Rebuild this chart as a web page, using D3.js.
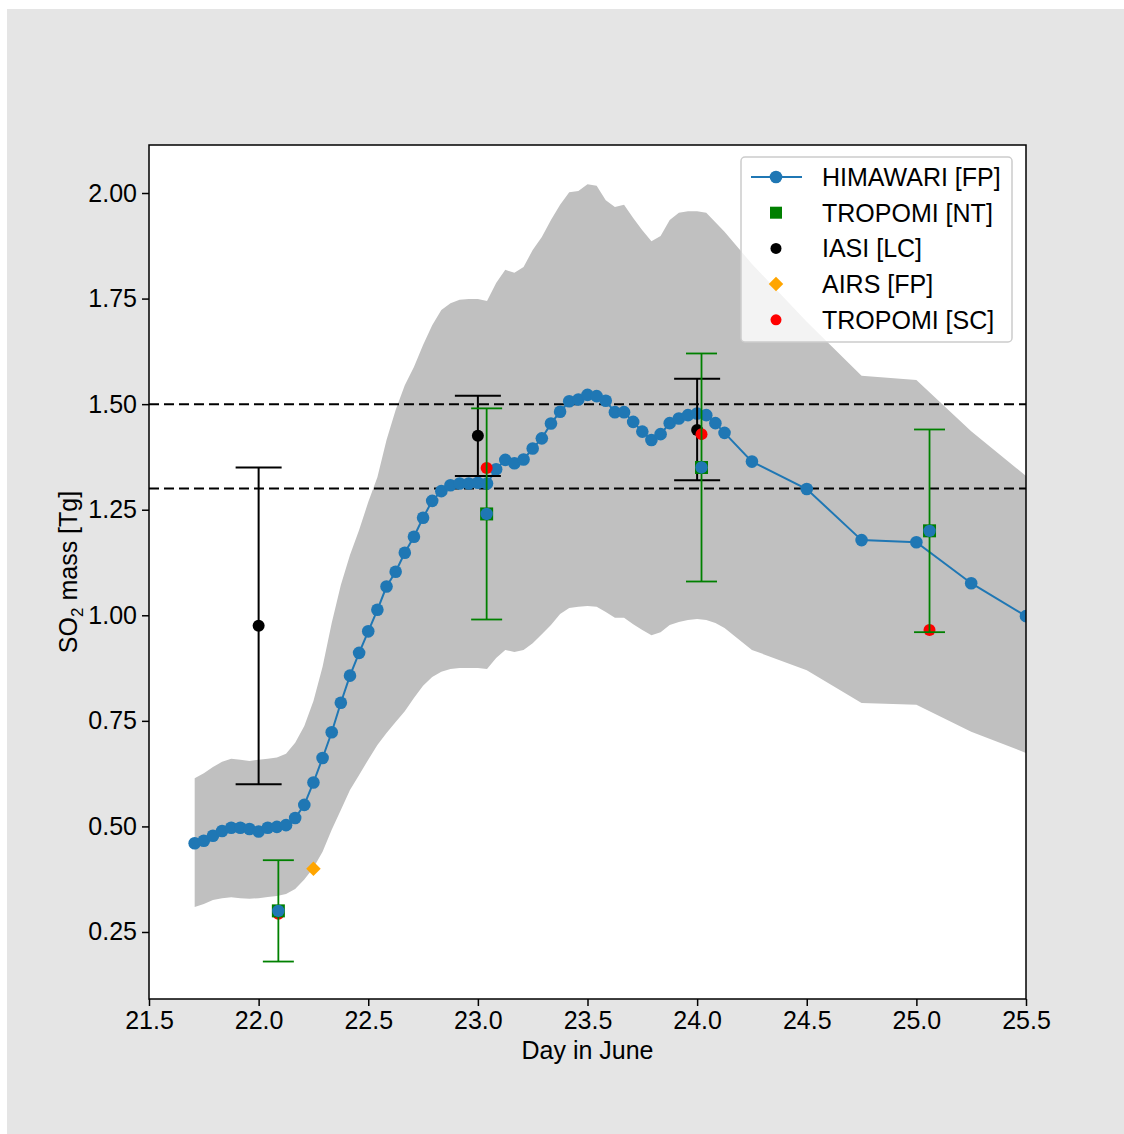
<!DOCTYPE html>
<html>
<head>
<meta charset="utf-8">
<script src="https://cdn.jsdelivr.net/npm/d3@7"></script>
<style>
  body { margin: 0; background: #fff; }
  svg text { font-family: "Liberation Sans", Arial, sans-serif; fill: #000; }
</style>
</head>
<body>
<div id="chart"></div>
<script>
// HIMAWARI [FP] time steps, hours after 21 June 00:00
const himaHours = [17, 18, 19, 20, 21, 22, 23, 24, 25, 26, 27, 28, 29, 30, 31, 32, 33, 34, 35, 36,
  37, 38, 39, 40, 41, 42, 43, 44, 45, 46, 47, 48, 49, 50, 51, 52, 53, 54, 55, 56,
  57, 58, 59, 60, 61, 62, 63, 64, 65, 66, 67, 68, 69, 70, 71, 72, 73, 74, 75,
  78, 84, 90, 96, 102, 108]

const himaMass = [0.460, 0.466, 0.478, 0.489, 0.497, 0.497, 0.494, 0.488, 0.497, 0.499,
  0.503, 0.520, 0.551, 0.604, 0.662, 0.723, 0.793, 0.857, 0.911, 0.962,
  1.013, 1.068, 1.103, 1.148, 1.186, 1.231, 1.271, 1.294, 1.308, 1.312,
  1.312, 1.314, 1.312, 1.346, 1.368, 1.360, 1.369, 1.395, 1.419, 1.454,
  1.482, 1.507, 1.511, 1.522, 1.519, 1.508, 1.481, 1.481, 1.458, 1.435,
  1.415, 1.429, 1.455, 1.466, 1.474, 1.478, 1.474, 1.455, 1.432,
  1.364, 1.299, 1.178, 1.173, 1.076, 0.998]

// uncertainty band
const bandUpper = [0.614, 0.626, 0.641, 0.653, 0.660, 0.658, 0.655, 0.658, 0.660, 0.663,
  0.672, 0.698, 0.738, 0.797, 0.878, 0.982, 1.072, 1.143, 1.202, 1.268,
  1.327, 1.415, 1.486, 1.545, 1.588, 1.640, 1.687, 1.723, 1.739, 1.747,
  1.749, 1.749, 1.744, 1.787, 1.818, 1.811, 1.825, 1.865, 1.896, 1.936,
  1.972, 2.002, 2.005, 2.021, 2.017, 1.983, 1.967, 1.972, 1.941, 1.912,
  1.886, 1.898, 1.936, 1.953, 1.957, 1.957, 1.953, 1.931, 1.908,
  1.832, 1.695, 1.567, 1.557, 1.436, 1.330]

const bandLower = [0.309, 0.316, 0.326, 0.330, 0.332, 0.330, 0.329, 0.330, 0.333, 0.335,
  0.340, 0.352, 0.374, 0.402, 0.440, 0.492, 0.539, 0.586, 0.622, 0.658,
  0.693, 0.721, 0.747, 0.773, 0.804, 0.833, 0.854, 0.866, 0.873, 0.875,
  0.875, 0.875, 0.873, 0.899, 0.918, 0.913, 0.918, 0.934, 0.955, 0.977,
  1.003, 1.017, 1.020, 1.022, 1.020, 1.008, 0.994, 0.994, 0.979, 0.965,
  0.953, 0.960, 0.977, 0.984, 0.989, 0.991, 0.989, 0.982, 0.970,
  0.918, 0.870, 0.792, 0.788, 0.724, 0.674]

// IASI [LC]
const iasiDay = [22.0, 23.0, 24.0]
const iasiMass = [0.975, 1.425, 1.439]
const iasiLow = [0.60, 1.33, 1.32]
const iasiHigh = [1.35, 1.52, 1.56]

// TROPOMI [NT]
const tropNtDay = [22.09, 23.04, 24.02, 25.06]
const tropNtMass = [0.30, 1.24, 1.35, 1.20]
const tropNtLow = [0.18, 0.99, 1.08, 0.96]
const tropNtHigh = [0.42, 1.49, 1.62, 1.44]

// TROPOMI [SC]
const tropScDay = [22.09, 23.04, 24.02, 25.06]
const tropScMass = [0.293, 1.349, 1.429, 0.965]

// AIRS [FP]
const airsDay = [22.25]
const airsMass = [0.40]

const refLines = [1.50, 1.30]
const xTicks = [21.5, 22.0, 22.5, 23.0, 23.5, 24.0, 24.5, 25.0, 25.5]
const yTicks = [0.25, 0.50, 0.75, 1.00, 1.25, 1.50, 1.75, 2.00]

const legendNames = ['HIMAWARI [FP]', 'TROPOMI [NT]', 'IASI [LC]', 'AIRS [FP]', 'TROPOMI [SC]']

const W = 1124, H = 1134
const pL = 149, pR = 1026, pT = 145, pB = 999
const blue = '#1f77b4'
const fs = 25

const x = d3.scaleLinear().domain([21.5, 25.5]).range([pL, pR])
const y = d3.scaleLinear().domain([0.0913, 2.1137]).range([pB, pT])

const svg = d3.select('#chart').append('svg')
  .attr('width', W)
  .attr('height', H)

svg.append('rect')
  .attr('x', 7).attr('y', 9)
  .attr('width', W - 7).attr('height', H - 9)
  .attr('fill', '#e5e5e5')

svg.append('rect')
  .attr('x', pL).attr('y', pT)
  .attr('width', pR - pL).attr('height', pB - pT)
  .attr('fill', '#fff')

svg.append('clipPath').attr('id', 'clip')
  .append('rect')
  .attr('x', pL).attr('y', pT)
  .attr('width', pR - pL).attr('height', pB - pT)

const plot = svg.append('g').attr('clip-path', 'url(#clip)')

const hima = himaHours.map((h, i) => ({
  day: 21 + h / 24,
  mass: himaMass[i],
  lo: bandLower[i],
  hi: bandUpper[i]
}))

// band
plot.append('path')
  .datum(hima)
  .attr('fill', '#c0c0c0')
  .attr('d', d3.area()
    .x(d => x(d.day))
    .y0(d => y(d.lo))
    .y1(d => y(d.hi)))

// reference lines
plot.selectAll('.ref')
  .data(refLines)
  .enter()
  .append('line')
  .attr('x1', pL).attr('x2', pR)
  .attr('y1', d => y(d)).attr('y2', d => y(d))
  .attr('stroke', '#000')
  .attr('stroke-width', 2)
  .attr('stroke-dasharray', '10,5')

// HIMAWARI line
plot.append('path')
  .datum(hima)
  .attr('fill', 'none')
  .attr('stroke', blue)
  .attr('stroke-width', 2)
  .attr('d', d3.line().x(d => x(d.day)).y(d => y(d.mass)))

plot.selectAll('.hima')
  .data(hima)
  .enter()
  .append('circle')
  .attr('cx', d => x(d.day))
  .attr('cy', d => y(d.mass))
  .attr('r', 6.3)
  .attr('fill', blue)

// error bar helper
function errorBars(days, low, high, color, capHalf, width) {
  const g = plot.append('g').attr('stroke', color).attr('stroke-width', width)
  days.forEach((d, i) => {
    const cx = x(d)
    g.append('line')
      .attr('x1', cx).attr('x2', cx)
      .attr('y1', y(low[i])).attr('y2', y(high[i]))
    g.append('line')
      .attr('x1', cx - capHalf).attr('x2', cx + capHalf)
      .attr('y1', y(low[i])).attr('y2', y(low[i]))
    g.append('line')
      .attr('x1', cx - capHalf).attr('x2', cx + capHalf)
      .attr('y1', y(high[i])).attr('y2', y(high[i]))
  })
}

// IASI
errorBars(iasiDay, iasiLow, iasiHigh, '#000', 23, 2)
plot.selectAll('.iasi')
  .data(iasiDay)
  .enter()
  .append('circle')
  .attr('cx', d => x(d))
  .attr('cy', (d, i) => y(iasiMass[i]))
  .attr('r', 6)
  .attr('fill', '#000')

// TROPOMI SC
plot.selectAll('.sc')
  .data(tropScDay)
  .enter()
  .append('circle')
  .attr('cx', d => x(d))
  .attr('cy', (d, i) => y(tropScMass[i]))
  .attr('r', 6)
  .attr('fill', '#ff0000')

// TROPOMI NT
errorBars(tropNtDay, tropNtLow, tropNtHigh, 'green', 15.5, 1.8)
plot.selectAll('.nt')
  .data(tropNtDay)
  .enter()
  .append('rect')
  .attr('x', d => x(d) - 6.5)
  .attr('y', (d, i) => y(tropNtMass[i]) - 6.5)
  .attr('width', 13).attr('height', 13)
  .attr('fill', 'green')
plot.selectAll('.ntc')
  .data(tropNtDay)
  .enter()
  .append('circle')
  .attr('cx', d => x(d))
  .attr('cy', (d, i) => y(tropNtMass[i]))
  .attr('r', 6.2)
  .attr('fill', blue)

// AIRS
const diamond = d3.symbol().type(d3.symbolSquare).size(105)
plot.selectAll('.airs')
  .data(airsDay)
  .enter()
  .append('path')
  .attr('d', diamond)
  .attr('transform', (d, i) => `translate(${x(d)},${y(airsMass[i])}) rotate(45)`)
  .attr('fill', 'orange')

// axes
const xAxis = svg.append('g')
  .attr('transform', `translate(0,${pB})`)
  .call(d3.axisBottom(x).tickValues(xTicks).tickFormat(d3.format('.1f')).tickSize(7).tickSizeOuter(0))
xAxis.select('.domain').remove()
xAxis.selectAll('line').attr('stroke-width', 1.5)
xAxis.selectAll('text').attr('font-size', fs).attr('y', 8).attr('dy', '0.88em')

const yAxis = svg.append('g')
  .attr('transform', `translate(${pL},0)`)
  .call(d3.axisLeft(y).tickValues(yTicks).tickFormat(d3.format('.2f')).tickSize(7).tickSizeOuter(0))
yAxis.select('.domain').remove()
yAxis.selectAll('line').attr('stroke-width', 1.5)
yAxis.selectAll('text').attr('font-size', fs).attr('x', -12)

svg.append('rect')
  .attr('x', pL).attr('y', pT)
  .attr('width', pR - pL).attr('height', pB - pT)
  .attr('fill', 'none')
  .attr('stroke', '#000')
  .attr('stroke-width', 1.5)

// axis labels
svg.append('text')
  .attr('x', (pL + pR) / 2)
  .attr('y', 1059)
  .attr('text-anchor', 'middle')
  .attr('font-size', fs)
  .text('Day in June')

const yLabel = svg.append('text')
  .attr('transform', `translate(77,${(pT + pB) / 2}) rotate(-90)`)
  .attr('text-anchor', 'middle')
  .attr('font-size', fs)
yLabel.append('tspan').text('SO')
yLabel.append('tspan').attr('font-size', 17).attr('dy', 6).text('2')
yLabel.append('tspan').attr('dy', -6).text(' mass [Tg]')

// legend
const legend = svg.append('g')
legend.append('rect')
  .attr('x', 741).attr('y', 157)
  .attr('width', 271).attr('height', 185)
  .attr('rx', 4)
  .attr('fill', 'rgba(255,255,255,0.8)')
  .attr('stroke', '#cccccc')
  .attr('stroke-width', 1.5)

const rowY = i => 177 + i * 35.7
const mx = 776

legend.append('line')
  .attr('x1', 751).attr('x2', 802)
  .attr('y1', rowY(0)).attr('y2', rowY(0))
  .attr('stroke', blue).attr('stroke-width', 2)
legend.append('circle').attr('cx', mx).attr('cy', rowY(0)).attr('r', 6.3).attr('fill', blue)
legend.append('rect').attr('x', mx - 6).attr('y', rowY(1) - 6).attr('width', 12).attr('height', 12).attr('fill', 'green')
legend.append('circle').attr('cx', mx).attr('cy', rowY(2)).attr('r', 5.5).attr('fill', '#000')
legend.append('path').attr('d', diamond).attr('transform', `translate(${mx},${rowY(3)}) rotate(45)`).attr('fill', 'orange')
legend.append('circle').attr('cx', mx).attr('cy', rowY(4)).attr('r', 5.5).attr('fill', '#ff0000')

legend.selectAll('.lt')
  .data(legendNames)
  .enter()
  .append('text')
  .attr('x', 822)
  .attr('y', (d, i) => rowY(i))
  .attr('dy', '0.36em')
  .attr('font-size', fs)
  .text(d => d)
</script>
</body>
</html>
